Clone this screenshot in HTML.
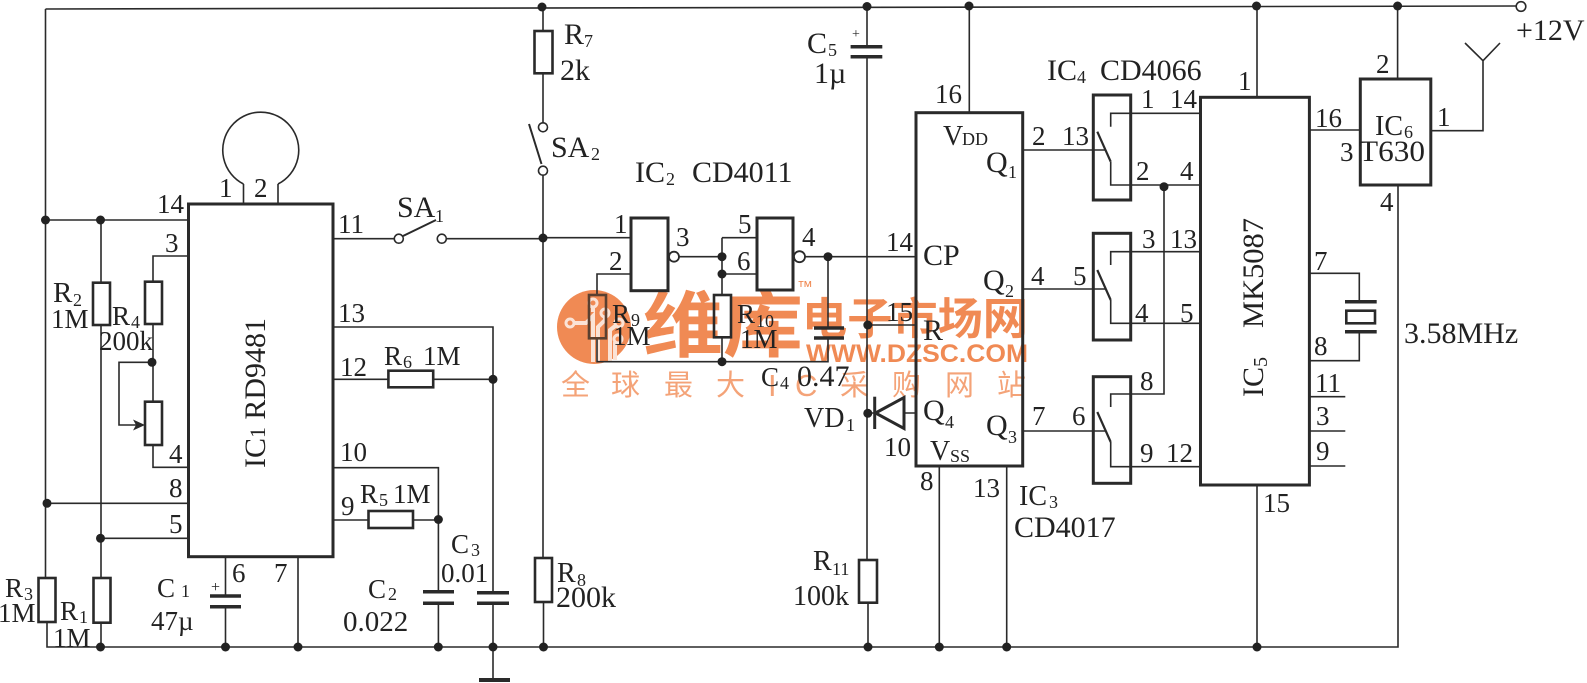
<!DOCTYPE html>
<html><head><meta charset="utf-8"><style>
html,body{margin:0;padding:0;background:#fff}
svg{display:block}
</style></head><body>
<svg xmlns="http://www.w3.org/2000/svg" width="1587" height="683" viewBox="0 0 1587 683">
<style>
.w{stroke:#2a2a2a;stroke-width:1.6;fill:none}
.r{stroke:#2a2a2a;stroke-width:2.6;fill:none}
.bx{stroke:#2a2a2a;stroke-width:3;fill:none}
.p{stroke:#2a2a2a;stroke-width:3.5;fill:none}
.d{fill:#222}
text{font-family:"Liberation Serif",serif;fill:#222;font-size:27px}
.l{font-size:30px}
.s{font-size:18px}
</style>
<rect width="1587" height="683" fill="#fff"/>

<!-- watermark -->
<g>
<circle cx="594" cy="327" r="37" fill="#f08a54"/>
<g stroke="#fbe3d6" stroke-width="4" fill="none">
<path d="M575 323 H586 L593 316 V362"/>
<path d="M593 303 V312"/>
<path d="M605 313 V320 L598 327 V362"/>
<path d="M619 323 L610 330 V362"/>
<path d="M618 339 L615 343 V360"/>
</g>
<g fill="#f08a54" stroke="#fbe3d6" stroke-width="3">
<circle cx="570" cy="323" r="4"/>
<circle cx="593" cy="303" r="4"/>
<circle cx="605" cy="313" r="4"/>
<circle cx="619" cy="323" r="4"/>
<circle cx="618" cy="339" r="4"/>
</g>
<text x="643" y="351" style="fill:#f08a54;font-size:72px;font-family:'Noto Sans CJK SC',sans-serif;font-weight:bold" textLength="160" lengthAdjust="spacingAndGlyphs">维库</text>
<text x="797" y="292" style="fill:#f08a54;font-size:16px;font-family:'Liberation Sans',sans-serif">™</text>
<text x="802" y="334" style="fill:#f08a54;font-size:44px;font-family:'Noto Sans CJK SC',sans-serif;font-weight:bold" textLength="226" lengthAdjust="spacingAndGlyphs">电子市场网</text>
<text x="806" y="362" style="fill:#f08a54;font-size:25px;font-family:'Liberation Sans',sans-serif;font-weight:bold" textLength="222" lengthAdjust="spacingAndGlyphs">WWW.DZSC.COM</text>
<text x="561" y="395" style="fill:#f4a378;font-size:29px;font-family:'Noto Sans CJK SC',sans-serif">全</text>
<text x="611" y="395" style="fill:#f4a378;font-size:29px;font-family:'Noto Sans CJK SC',sans-serif">球</text>
<text x="664" y="395" style="fill:#f4a378;font-size:29px;font-family:'Noto Sans CJK SC',sans-serif">最</text>
<text x="716" y="395" style="fill:#f4a378;font-size:29px;font-family:'Noto Sans CJK SC',sans-serif">大</text>
<text x="768" y="396" style="fill:#f4a378;font-size:31px;font-family:'Liberation Sans',sans-serif">I</text>
<text x="795" y="396" style="fill:#f4a378;font-size:31px;font-family:'Liberation Sans',sans-serif">C</text>
<text x="840" y="395" style="fill:#f4a378;font-size:29px;font-family:'Noto Sans CJK SC',sans-serif">采</text>
<text x="892" y="395" style="fill:#f4a378;font-size:29px;font-family:'Noto Sans CJK SC',sans-serif">购</text>
<text x="945" y="395" style="fill:#f4a378;font-size:29px;font-family:'Noto Sans CJK SC',sans-serif">网</text>
<text x="997" y="395" style="fill:#f4a378;font-size:29px;font-family:'Noto Sans CJK SC',sans-serif">站</text>
</g>

<!-- wires -->
<path class="w" d="M45.5 9 L1517 6"/>
<path class="w" d="M45.5 9 V578"/>
<rect class="r" x="38.5" y="578" width="17" height="44"/>
<path class="w" d="M47 622 V647 H1398 V185"/>
<path class="w" d="M45.5 220 H188.5"/>
<path class="w" d="M101 220 V282.7 M101 325 V578 M101 622.7 V647"/>
<rect class="r" x="93" y="282.7" width="17" height="42.3"/>
<rect class="r" x="93.5" y="578" width="17" height="44.7"/>
<path class="w" d="M188.5 256 H153 V281.7 M153 324 V401.7 M153 445 V467.3 H188.5"/>
<rect class="r" x="145" y="281.7" width="17" height="42.3"/>
<rect class="r" x="145" y="401.7" width="17" height="43.3"/>
<path class="w" d="M153 362.3 H119 V425 H138"/>
<polygon points="145,425 133,419.5 136,425 133,430.5" fill="#2a2a2a"/>
<path class="w" d="M45.5 503.3 H188.5 M101 538.3 H188.5"/>
<rect class="bx" x="188.5" y="204" width="144.5" height="352.7"/>
<path class="w" d="M243.5 204 V184 M278 204 V184"/>
<path class="w" d="M243.5 184 A38 38 0 1 1 278 184"/>
<path class="w" d="M333 238.7 H394.3 M446.3 238.7 H543"/>
<circle class="w" cx="398.8" cy="238.7" r="4.5" style="fill:#fff"/>
<circle class="w" cx="441.8" cy="238.7" r="4.5" style="fill:#fff"/>
<path class="w" d="M403 236 L436 220" style="stroke-width:2"/>
<path class="w" d="M333 327 H493 V592.7"/>
<path class="w" d="M333 379.3 H388.4 M433.2 379.3 H493"/>
<rect class="r" x="388.4" y="370.7" width="44.8" height="16.6"/>
<path class="w" d="M333 467.7 H438.4 V591.7"/>
<path class="w" d="M333 520 H368.5 M413 520 H438.4"/>
<rect class="r" x="368.5" y="511" width="44.5" height="17"/>
<path class="p" d="M423 591.7 H454 M423 603.3 H454"/>
<path class="w" d="M438.4 603.3 V647"/>
<path class="p" d="M477 592.7 H509 M477 603.3 H509"/>
<path class="w" d="M493 603.3 V680"/>
<path class="w" d="M479 680 H510" style="stroke-width:4"/>
<path class="w" d="M225.5 556.7 V596 M225.5 606.7 V647 M298 556.7 V647"/>
<path class="p" d="M210 596 H241 M210 606.7 H241"/>

<!-- middle -->
<path class="w" d="M543 7 V31 M543 73.3 V122.8 M543 175.2 V558 M543.5 602 V647"/>
<rect class="r" x="534.5" y="31" width="18" height="42.3"/>
<rect class="r" x="535" y="558" width="17" height="44"/>
<circle class="w" cx="543" cy="127.3" r="4.5" style="fill:#fff"/>
<circle class="w" cx="543" cy="170.7" r="4.5" style="fill:#fff"/>
<path class="w" d="M529 124 L541.5 164" style="stroke-width:2"/>
<path class="w" d="M543 237.7 H631"/>
<rect class="bx" x="631" y="218" width="37" height="72.7"/>
<circle class="w" cx="674" cy="256.7" r="5" style="fill:#fff;stroke-width:1.8"/>
<path class="w" d="M631 274 H597 V295 M597 338.3 V361.7 H828 V338"/>
<rect class="r" x="589" y="295" width="17" height="43.3" style="stroke:#5a4030"/>
<path class="w" d="M679 256.7 H722 M722 237.7 V295 M722 237.7 H757 M722 274 H757 M722 337.3 V361.7"/>
<rect class="r" x="714" y="295" width="17" height="42.3"/>
<rect class="bx" x="757" y="218" width="36" height="72"/>
<circle class="w" cx="799.5" cy="256.7" r="5.5" style="fill:#fff;stroke-width:1.8"/>
<path class="w" d="M805 256.7 H916 M828 256.7 V328"/>
<path class="p" d="M814 328 H844 M814 338 H844"/>
<path class="w" d="M867 6.5 V46.7 M867 56.7 V560 M868 602.7 V647"/>
<path class="p" d="M850.6 46.7 H882.3 M850.6 56.7 H882.3"/>
<rect class="r" x="859" y="560" width="18" height="42.7"/>
<path class="w" d="M867 325 H916"/>
<path class="w" d="M867 413 H874.7 M904 413 H916"/>
<path class="w" d="M874.7 396.7 V429" style="stroke-width:3"/>
<polygon points="875.5,413 904,397.5 904,428.5" fill="#fff" stroke="#2a2a2a" stroke-width="3"/>
<rect class="bx" x="916" y="112.7" width="106.7" height="353.3"/>
<path class="w" d="M969.3 6 V112.7 M939.3 466 V647 M1006.7 466 V647"/>
<path class="w" d="M1022.7 150 H1106 M1022.7 289 H1106 M1022.7 431 H1106"/>
<rect class="bx" x="1093.3" y="95" width="37.4" height="105"/>
<rect class="bx" x="1093.3" y="233.3" width="37.4" height="106.7"/>
<rect class="bx" x="1093.3" y="376.7" width="37.4" height="106.6"/>
<path class="w" d="M1201.7 113.3 H1110.7 V126.7 M1110.7 161.7 V185 H1201.7"/>
<path class="w" d="M1097.3 131.7 L1110.7 161.7" style="stroke-width:2.2"/>
<path class="w" d="M1201.7 251.7 H1110.7 V265 M1110.7 300 V323.3 H1201.7"/>
<path class="w" d="M1097.3 270 L1110.7 300" style="stroke-width:2.2"/>
<path class="w" d="M1164 186.7 V394 H1110.7 V407 M1110.7 442 V466.7 H1201.7"/>
<path class="w" d="M1097.3 412 L1110.7 442" style="stroke-width:2.2"/>
<rect class="bx" x="1200.5" y="97.3" width="108.9" height="387.7"/>
<path class="w" d="M1257 6 V97.3 M1257 485 V647"/>
<path class="w" d="M1309.4 130 H1360.3"/>
<rect class="bx" x="1360.3" y="79" width="70.5" height="106"/>
<path class="w" d="M1397.6 6 V79"/>
<path class="w" d="M1430.8 130.7 H1483 V60.7 M1465 43 L1483 60.7 L1500 43"/>
<path class="w" d="M1309.4 273.3 H1359.3 V301.7 M1359.3 331.7 V360.7 H1309.4"/>
<path class="p" d="M1345 301.7 H1376.7 M1345 331.7 H1376.7"/>
<rect class="r" x="1346.3" y="310.7" width="28.7" height="12.6"/>
<path class="w" d="M1309.4 396.7 H1345.3 M1309.4 431 H1345.3 M1309.4 466 H1345.3"/>
<circle class="w" cx="1521" cy="6.5" r="4.8" style="fill:#fff"/>

<!-- dots -->
<g class="d">
<circle cx="45.5" cy="220" r="4.5"/><circle cx="100.5" cy="220" r="4.5"/>
<circle cx="47" cy="503.3" r="4.5"/><circle cx="100.5" cy="538.3" r="4.5"/>
<circle cx="152" cy="362.3" r="4.5"/>
<circle cx="100.5" cy="647" r="4.5"/><circle cx="225.5" cy="647" r="4.5"/><circle cx="298" cy="647" r="4.5"/>
<circle cx="438.3" cy="647" r="4.5"/><circle cx="493" cy="647" r="4.5"/><circle cx="543.5" cy="647" r="4.5"/>
<circle cx="868" cy="647" r="4.5"/><circle cx="939.3" cy="647" r="4.5"/><circle cx="1006.7" cy="647" r="4.5"/>
<circle cx="1257" cy="647" r="4.5"/>
<circle cx="493" cy="379.3" r="4.5"/><circle cx="438.4" cy="519.5" r="4.5"/>
<circle cx="542" cy="7" r="4.5"/><circle cx="867" cy="6.5" r="4.5"/><circle cx="969" cy="6" r="4.5"/>
<circle cx="1256.5" cy="6" r="4.5"/><circle cx="1397.6" cy="6" r="4.5"/>
<circle cx="543" cy="238" r="4.5"/><circle cx="722" cy="256.7" r="4.5"/><circle cx="722" cy="274" r="4.5"/>
<circle cx="828" cy="256.7" r="4.5"/><circle cx="867.8" cy="325" r="4.5"/><circle cx="867.8" cy="413.3" r="4.5"/>
<circle cx="722" cy="361.7" r="4.5"/><circle cx="1164" cy="186.7" r="4.5"/>
</g>

<!-- IC1 labels -->
<text x="157" y="213">14</text>
<text x="219" y="197">1</text><text x="254" y="197">2</text>
<text x="165" y="252">3</text>
<text x="338" y="233">11</text>
<text x="338" y="322">13</text>
<text x="340" y="376">12</text>
<text x="340" y="461">10</text>
<text x="341" y="515">9</text>
<text x="169" y="463">4</text><text x="169" y="497">8</text><text x="169" y="533">5</text>
<text x="232" y="582">6</text><text x="274" y="582">7</text>
<text class="l" x="397" y="217">SA</text><text class="s" x="435" y="222">1</text>
<text x="53" y="302" style="font-size:29px">R</text><text class="s" x="73" y="306">2</text>
<text x="51" y="328">1M</text>
<text x="112" y="325">R</text><text class="s" x="131" y="328">4</text>
<text x="99" y="350">200k</text>
<text x="384" y="365">R</text><text class="s" x="403" y="368">6</text><text x="423" y="365">1M</text>
<text x="360" y="503">R</text><text class="s" x="379" y="506">5</text><text x="393" y="503">1M</text>
<text x="5" y="597">R</text><text class="s" x="24" y="600">3</text>
<text x="-2" y="622">1M</text>
<text x="60" y="620">R</text><text class="s" x="79" y="623">1</text>
<text x="53" y="647">1M</text>
<text x="157" y="597">C</text><text class="s" x="181" y="597">1</text>
<text x="151" y="630">47µ</text>
<text x="211" y="592" style="font-size:16px">+</text>
<text x="368" y="598">C</text><text class="s" x="388" y="600">2</text>
<text x="343" y="631" style="font-size:29px">0.022</text>
<text x="451" y="553">C</text><text class="s" x="471" y="556">3</text>
<text x="441" y="582">0.01</text>
<text x="265" y="468" transform="rotate(-90 265 468)" style="font-size:30px" textLength="150" lengthAdjust="spacingAndGlyphs">IC<tspan style="font-size:22px">1</tspan> RD9481</text>

<!-- middle labels -->
<text class="l" x="564" y="44">R</text><text class="s" x="584" y="47">7</text>
<text class="l" x="560" y="80">2k</text>
<text class="l" x="551" y="157">SA</text><text class="s" x="591" y="160">2</text>
<text class="l" x="635" y="182">IC</text><text class="s" x="666" y="185">2</text>
<text class="l" x="692" y="182">CD4011</text>
<text x="614" y="233">1</text><text x="609" y="270">2</text><text x="676" y="246">3</text>
<text x="738" y="233">5</text><text x="737" y="270">6</text><text x="802" y="246">4</text>
<text x="612" y="323">R</text><text class="s" x="631" y="326">9</text>
<text x="613" y="345">1M</text>
<text x="737" y="323">R</text><text class="s" x="756" y="327">10</text>
<text x="740" y="348">1M</text>
<text x="761" y="386">C</text><text class="s" x="780" y="389">4</text><text x="797" y="386" style="font-size:30px">0.47</text>
<text class="l" x="807" y="53">C</text><text class="s" x="828" y="56">5</text>
<text class="l" x="814" y="83">1µ</text>
<text x="852" y="38" style="font-size:14px">+</text>
<text x="886" y="251">14</text><text x="886" y="321">15</text><text x="935" y="103">16</text>
<text x="884" y="456">10</text>
<text x="804" y="427" style="font-size:28px">VD</text><text class="s" x="846" y="431">1</text>
<text x="813" y="570" style="font-size:28px">R</text><text class="s" x="832" y="575">11</text>
<text x="793" y="605" style="font-size:28px">100k</text>
<text x="557" y="582" style="font-size:28px">R</text><text class="s" x="577" y="586">8</text>
<text class="l" x="556" y="607">200k</text>

<!-- IC3 labels -->
<text x="943" y="145" style="font-size:28px">V</text><text class="s" x="962" y="145">DD</text>
<text class="l" x="986" y="172">Q</text><text class="s" x="1008" y="178">1</text>
<text class="l" x="923" y="265">CP</text>
<text class="l" x="983" y="290">Q</text><text class="s" x="1005" y="297">2</text>
<text class="l" x="923" y="340">R</text>
<text class="l" x="923" y="420">Q</text><text class="s" x="945" y="428">4</text>
<text class="l" x="986" y="435">Q</text><text class="s" x="1008" y="443">3</text>
<text x="930" y="460" style="font-size:28px">V</text><text class="s" x="950" y="462">SS</text>
<text x="1032" y="145">2</text><text x="1062" y="145">13</text>
<text x="1031" y="285">4</text><text x="1073" y="285">5</text>
<text x="1032" y="425">7</text><text x="1072" y="425">6</text>
<text x="920" y="490">8</text><text x="973" y="497">13</text>
<text x="1019" y="505" style="font-size:28px">IC</text><text class="s" x="1049" y="508">3</text>
<text class="l" x="1014" y="537">CD4017</text>

<!-- IC4 / switches -->
<text class="l" x="1047" y="80">IC</text><text class="s" x="1077" y="83">4</text>
<text class="l" x="1100" y="80">CD4066</text>
<text x="1141" y="108">1</text><text x="1170" y="108">14</text>
<text x="1136" y="180">2</text><text x="1180" y="180">4</text>
<text x="1142" y="248">3</text><text x="1170" y="248">13</text>
<text x="1135" y="322">4</text><text x="1180" y="322">5</text>
<text x="1140" y="390">8</text>
<text x="1140" y="462">9</text><text x="1166" y="462">12</text>

<!-- IC5 -->
<text x="1238" y="90">1</text><text x="1315" y="127">16</text>
<text x="1314" y="270">7</text><text x="1314" y="355">8</text>
<text x="1315" y="392">11</text><text x="1316" y="425">3</text><text x="1316" y="460">9</text>
<text x="1263" y="512">15</text>
<text x="1263" y="397" transform="rotate(-90 1263 397)" style="font-size:30px">IC<tspan style="font-size:20px" dy="4">5</tspan></text>
<text x="1263" y="328" transform="rotate(-90 1263 328)" style="font-size:30px" textLength="110" lengthAdjust="spacingAndGlyphs">MK5087</text>

<!-- IC6 -->
<text x="1375" y="135" style="font-size:28px">IC</text><text class="s" x="1404" y="138">6</text>
<text class="l" x="1359" y="161" textLength="66" lengthAdjust="spacingAndGlyphs">T630</text>
<text x="1376" y="73">2</text><text x="1340" y="161">3</text><text x="1437" y="126">1</text><text x="1380" y="211">4</text>
<text class="l" x="1516" y="40">+12V</text>
<text class="l" x="1404" y="343">3.58MHz</text>
</svg>
</body></html>
